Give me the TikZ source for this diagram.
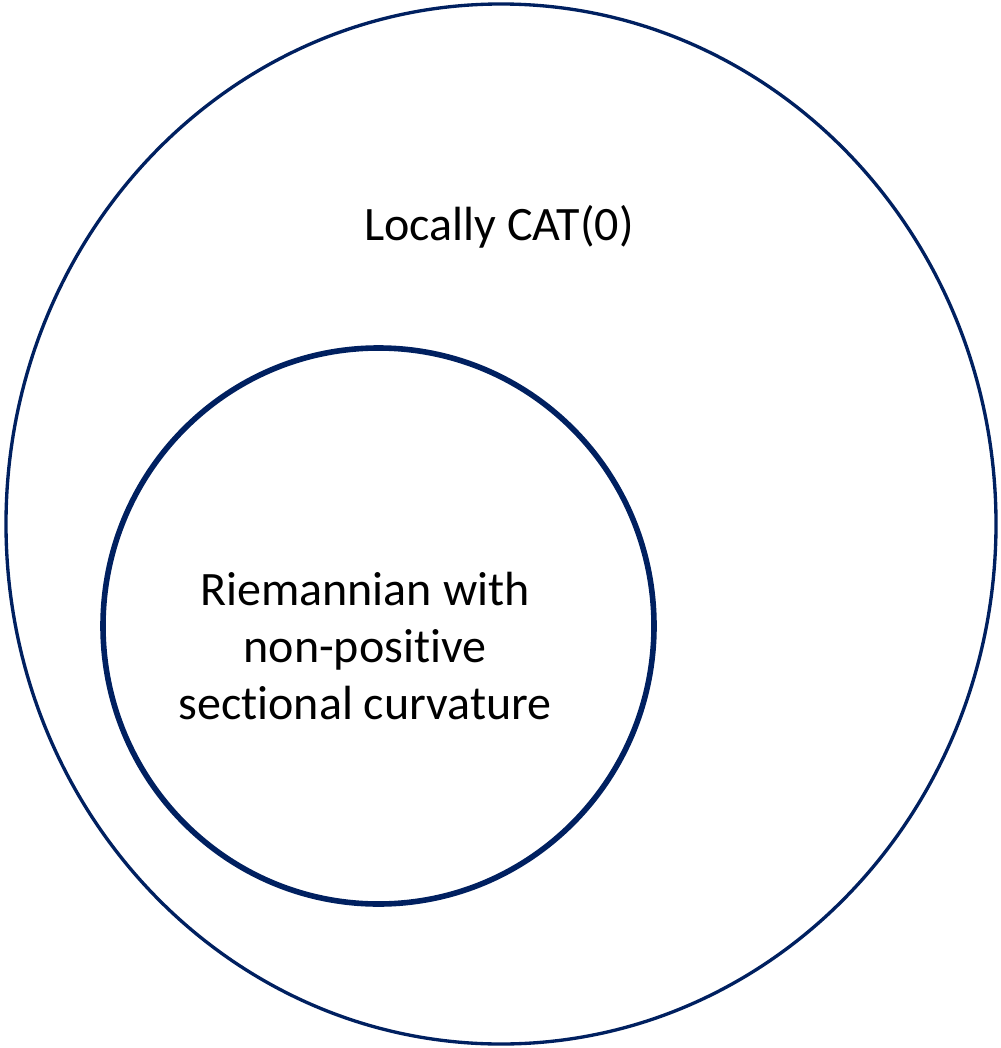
\documentclass[tikz,border=0pt]{standalone}
\usepackage{fontspec}
\setmainfont[Ligatures=NoCommon]{Carlito}
\definecolor{navy}{HTML}{002060}
\begin{document}
\begin{tikzpicture}[x=0.75pt,y=-0.75pt,
  outerring/.style={draw=navy,line width=2.5pt},
  innerring/.style={draw=navy,line width=4.2pt},
  lbl/.style={font=\fontsize{36pt}{42.75pt}\selectfont,align=center,text=black,inner sep=0pt}]
\useasboundingbox (0,0) rectangle (1000,1048);
\draw[outerring] (501,524) ellipse [x radius=495, y radius=520];
\draw[innerring] (378.5,626) ellipse [x radius=275.5, y radius=278];
\node[lbl] (outer) at (499,227) {Locally CAT(0)};
\node[lbl] (inner) at (365,646) {Riemannian with\\non-positive\\sectional curvature};
\end{tikzpicture}
\end{document}
